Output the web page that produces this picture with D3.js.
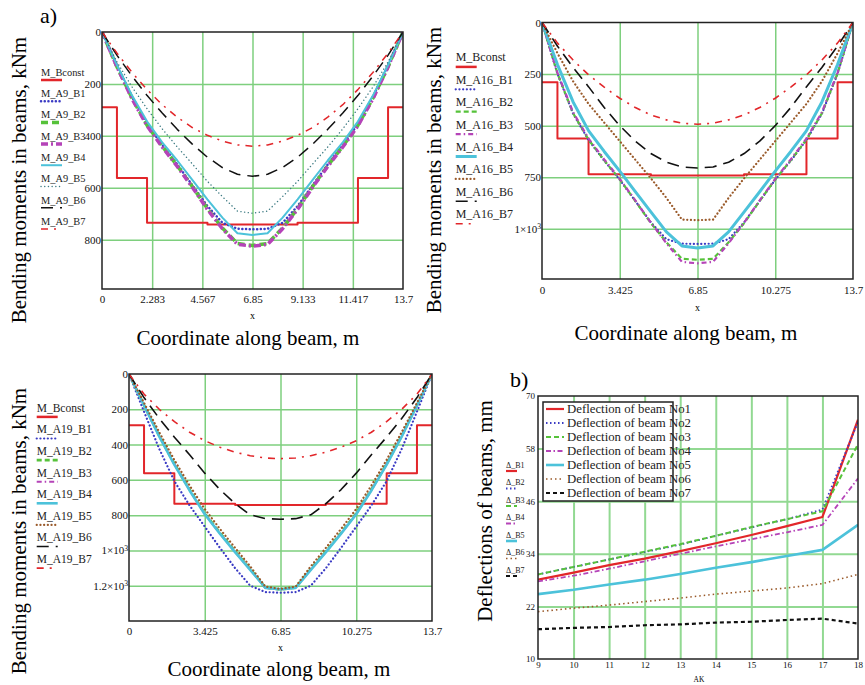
<!DOCTYPE html>
<html>
<head>
<meta charset="utf-8">
<script src="https://cdn.jsdelivr.net/npm/d3@7"></script>
<style>
  body { margin: 0; background: #fff; }
  svg { display: block; font-family: "Liberation Serif", "Times New Roman", serif; }
</style>
</head>
<body>
<svg id="fig" width="865" height="685" font-family="Liberation Serif, Times New Roman, serif"></svg>
<script>
// ---- Coordinates along the beam (m) ----
const xCoord = [0, 0.685, 1.37, 2.055, 2.74, 3.425, 4.11, 4.795, 5.48, 6.165, 6.85,
                7.535, 8.22, 8.905, 9.59, 10.275, 10.96, 11.645, 12.33, 13.015, 13.7];

// ---- Bearing capacity of the beam (stepped) ----
const bconstX = [0, 0.68, 2.05, 4.8, 8.9, 11.65, 13.02, 13.7];
const bconstM = [290, 562, 735, 742, 735, 562, 290, 290];

// ---- Bending moments, variant A9 (kNm) ----
const momA9_B1 = [0,130,250,355,435,510,590,670,735,758,760,758,735,670,590,510,435,355,250,130,0];
const momA9_B2 = [0,135,255,360,440,515,595,680,755,815,822,815,755,680,595,515,440,360,255,135,0];
const momA9_B3 = [0,135,258,362,443,518,598,683,758,818,825,818,758,683,598,518,443,362,258,135,0];
const momA9_B4 = [0,128,245,345,425,495,570,645,715,775,782,775,715,645,570,495,425,345,245,128,0];
const momA9_B5 = [0,116,212,296,373,443,508,575,634,690,698,690,634,575,508,443,373,296,212,116,0];
const momA9_B6 = [0,90,170,245,312,375,432,482,522,548,556,548,522,482,432,375,312,245,170,90,0];
const momA9_B7 = [0,82,156,222,280,328,368,398,420,435,440,435,420,398,368,328,280,222,156,82,0];

// ---- Bending moments, variant A16 (kNm) ----
const momA16_B1 = [0,250,442,570,670,762,865,968,1050,1072,1073,1072,1050,968,865,762,670,570,442,250,0];
const momA16_B2 = [0,248,440,568,668,760,865,972,1065,1145,1150,1145,1065,972,865,760,668,568,440,248,0];
const momA16_B3 = [0,245,435,563,663,758,862,970,1070,1160,1167,1160,1070,970,862,758,663,563,435,245,0];
const momA16_B4 = [0,205,385,525,625,720,820,918,1015,1083,1093,1083,1015,918,820,720,625,525,385,205,0];
const momA16_B5 = [0,150,285,395,485,575,665,755,850,955,958,955,850,755,665,575,485,395,285,150,0];
const momA16_B6 = [0,115,218,312,412,500,575,635,677,700,705,700,677,635,575,500,412,312,218,115,0];
const momA16_B7 = [0,100,182,254,313,367,412,448,472,488,493,488,472,448,412,367,313,254,182,100,0];

// ---- Bending moments, variant A19 (kNm) ----
const momA19_B1 = [0,215,425,608,745,865,985,1100,1200,1236,1240,1236,1200,1100,985,865,745,608,425,215,0];
const momA19_B2 = [0,178,350,510,655,790,900,1005,1105,1210,1222,1210,1105,1005,900,790,655,510,350,178,0];
const momA19_B3 = [0,178,352,512,658,793,903,1008,1108,1213,1222,1213,1108,1008,903,793,658,512,352,178,0];
const momA19_B4 = [0,180,355,515,660,795,905,1010,1110,1212,1220,1212,1110,1010,905,795,660,515,355,180,0];
const momA19_B5 = [0,165,330,488,632,765,878,985,1090,1205,1218,1205,1090,985,878,765,632,488,330,165,0];
const momA19_B6 = [0,135,252,358,458,562,655,735,798,820,823,820,798,735,655,562,458,358,252,135,0];
const momA19_B7 = [0,115,200,270,330,378,415,443,463,476,480,476,463,443,415,378,330,270,200,115,0];

// ---- Tick values ----
const ticksXA9 = [0, 2.283, 4.567, 6.85, 9.133, 11.417, 13.7];
const ticksXA16 = [0, 3.425, 6.85, 10.275, 13.7];
const ticksYA9 = [0, 200, 400, 600, 800];
const ticksYA16 = [0, 250, 500, 750, 1000];
const ticksYA19 = [0, 200, 400, 600, 800, 1000, 1200];

// ---- Deflections vs AK (mm) ----
const akValues = [9, 10, 11, 12, 13, 14, 15, 16, 17, 18];
const deflB1 = [28.1, 29.7, 31.4, 32.9, 34.6, 36.4, 38.3, 40.3, 42.4, 64.6];
const deflB2 = [29.3, 31.0, 32.7, 34.4, 36.1, 38.1, 40.0, 41.9, 44.1, 64.1];
const deflB3 = [29.3, 31.0, 32.7, 34.5, 36.2, 38.1, 40.1, 41.9, 43.7, 59.0];
const deflB4 = [27.7, 29.0, 30.6, 32.3, 34.0, 35.7, 37.3, 38.9, 40.6, 51.2];
const deflB5 = [24.8, 25.8, 27.0, 28.1, 29.4, 30.8, 32.1, 33.5, 34.9, 40.6];
const deflB6 = [20.8, 21.6, 22.3, 23.1, 23.9, 24.8, 25.5, 26.2, 27.2, 29.3];
const deflB7 = [16.8, 17.1, 17.3, 17.7, 17.9, 18.3, 18.5, 18.9, 19.2, 18.1];
const ticksYDefl = [10, 22, 34, 46, 58, 70];

// ---- Styles ----
const RED = "#e2262a", BLUE = "#3b3bc4", GREEN = "#56c23a", MAGENTA = "#b543b8",
      CYAN = "#4cc2da", BROWN = "#9a5a2a", TEAL = "#3f7c84", BLACK = "#111";
const GRID = "#7ecf7e";
const DOT = "0.1,3.6";

const svg = d3.select("#fig");
const defs = svg.append("defs");

function momentTick(sel) {
  sel.each(function (d) {
    const t = d3.select(this);
    if (d >= 1000) {
      t.text(null);
      t.append("tspan").text((d / 1000) + "×10");
      t.append("tspan").attr("dy", "-0.5em").attr("font-size", "0.7em").text("3");
    }
  });
}

function styleLine(path, s) {
  path.attr("fill", "none")
    .attr("stroke", s.color)
    .attr("stroke-width", s.width)
    .attr("stroke-dasharray", s.dash || null)
    .attr("stroke-linecap", s.dash === DOT ? "round" : "butt")
    .attr("stroke-linejoin", "round");
}

function momentPanel(p) {
  const x = d3.scaleLinear().domain([0, 13.7]).range([p.left, p.right]);
  const y = d3.scaleLinear().domain([0, p.yMax]).range([p.top, p.bottom]);
  const h = p.bottom - p.top, w = p.right - p.left;
  const g = svg.append("g");

  // grid
  g.append("g").attr("transform", `translate(0,${p.bottom})`)
    .call(d3.axisBottom(x).tickValues(p.xTicks.slice(1, -1)).tickSize(-h).tickFormat(""))
    .call(a => a.select(".domain").remove())
    .call(a => a.selectAll("line").attr("stroke", GRID).attr("stroke-width", 1.5));
  g.append("g").attr("transform", `translate(${p.left},0)`)
    .call(d3.axisLeft(y).tickValues(p.yTicks.slice(1)).tickSize(-w).tickFormat(""))
    .call(a => a.select(".domain").remove())
    .call(a => a.selectAll("line").attr("stroke", GRID).attr("stroke-width", 1.5));

  // curves
  defs.append("clipPath").attr("id", p.id).append("rect")
    .attr("x", p.left).attr("y", p.top).attr("width", w).attr("height", h);
  const plot = g.append("g").attr("clip-path", `url(#${p.id})`);

  const step = d3.line().x(d => x(d[0])).y(d => y(d[1])).curve(d3.curveStepAfter);
  styleLine(plot.append("path").attr("d", step(d3.zip(bconstX, bconstM))),
            { color: RED, width: 2 });

  const line = d3.line().x(d => x(d[0])).y(d => y(d[1]));
  p.series.forEach(s => {
    styleLine(plot.append("path").attr("d", line(d3.zip(xCoord, s.data))), s);
  });

  // frame
  g.append("rect").attr("x", p.left).attr("y", p.top).attr("width", w).attr("height", h)
    .attr("fill", "none").attr("stroke", "#222").attr("stroke-width", 1.5);

  // tick labels
  g.append("g").attr("transform", `translate(0,${p.bottom})`)
    .call(d3.axisBottom(x).tickValues(p.xTicks).tickSize(0).tickPadding(p.xPad).tickFormat(d => String(d)))
    .call(a => a.select(".domain").remove())
    .attr("font-family", null).attr("font-size", 11)
    .call(a => a.selectAll("text").attr("fill", "#111"));
  g.append("g").attr("transform", `translate(${p.left},0)`)
    .call(d3.axisLeft(y).tickValues(p.yTicks).tickSize(0).tickPadding(1).tickFormat(d => String(d)))
    .call(a => a.select(".domain").remove())
    .attr("font-family", null).attr("font-size", 11)
    .call(a => a.selectAll("text").attr("fill", "#111").call(momentTick));

  // axis names
  g.append("text").attr("x", (p.left + p.right) / 2).attr("y", p.xVarY)
    .attr("text-anchor", "middle").attr("font-size", 10).text("x");
  g.append("text").attr("x", p.titleX).attr("y", p.titleY)
    .attr("text-anchor", "middle").attr("font-size", 21).text("Coordinate along beam, m");
  g.append("text").attr("transform", `translate(${p.yTitleX},${p.yTitleY}) rotate(-90)`)
    .attr("text-anchor", "middle").attr("font-size", 21).text("Bending moments in beams, kNm");

  // legend
  const leg = g.append("g");
  const entries = [{ name: "M_Bconst", color: RED, width: 2.5 }].concat(p.series);
  entries.forEach((s, i) => {
    const cy = p.legY + i * p.legStep;
    leg.append("text").attr("x", p.legX).attr("y", cy + 4)
      .attr("font-size", p.legFont).attr("fill", "#222").text(s.name);
    styleLine(leg.append("line").attr("x1", p.legX).attr("x2", p.legX + 21)
      .attr("y1", cy + p.legFont * 0.8).attr("y2", cy + p.legFont * 0.8), s);
  });
}

// ---- Panel a: variant A9 ----
momentPanel({
  id: "clipA9", left: 102, right: 403, top: 32, bottom: 289, yMax: 990,
  xTicks: ticksXA9, yTicks: ticksYA9, xPad: 6, xVarY: 319, titleX: 248, titleY: 345,
  yTitleX: 26, yTitleY: 180,
  legX: 41, legY: 71.7, legStep: 21.3, legFont: 10.4,
  series: [
    { name: "M_A9_B1", data: momA9_B1, color: BLUE, width: 2.5, dash: DOT },
    { name: "M_A9_B2", data: momA9_B2, color: GREEN, width: 3.5, dash: "7,4" },
    { name: "M_A9_B3", data: momA9_B3, color: MAGENTA, width: 3.5, dash: "7,3,2,3" },
    { name: "M_A9_B4", data: momA9_B4, color: CYAN, width: 2 },
    { name: "M_A9_B5", data: momA9_B5, color: TEAL, width: 1.4, dash: DOT },
    { name: "M_A9_B6", data: momA9_B6, color: BLACK, width: 1.5, dash: "12,7" },
    { name: "M_A9_B7", data: momA9_B7, color: RED, width: 1.5, dash: "7,6,2,6" }
  ]
});

// ---- Panel: variant A16 ----
momentPanel({
  id: "clipA16", left: 542, right: 853, top: 22.5, bottom: 279, yMax: 1243,
  xTicks: ticksXA16, yTicks: ticksYA16, xPad: 7, xVarY: 311, titleX: 686, titleY: 340,
  yTitleX: 441, yTitleY: 170,
  legX: 455.7, legY: 57.3, legStep: 22.4, legFont: 12,
  series: [
    { name: "M_A16_B1", data: momA16_B1, color: BLUE, width: 2.2, dash: DOT },
    { name: "M_A16_B2", data: momA16_B2, color: GREEN, width: 2.2, dash: "5,3" },
    { name: "M_A16_B3", data: momA16_B3, color: MAGENTA, width: 2.2, dash: "5,3,1.5,3" },
    { name: "M_A16_B4", data: momA16_B4, color: CYAN, width: 3 },
    { name: "M_A16_B5", data: momA16_B5, color: BROWN, width: 2.2, dash: DOT },
    { name: "M_A16_B6", data: momA16_B6, color: BLACK, width: 1.6, dash: "12,7" },
    { name: "M_A16_B7", data: momA16_B7, color: RED, width: 1.6, dash: "7,6,2,6" }
  ]
});

// ---- Panel: variant A19 ----
momentPanel({
  id: "clipA19", left: 129, right: 432, top: 374, bottom: 621, yMax: 1400,
  xTicks: ticksXA16, yTicks: ticksYA19, xPad: 6, xVarY: 651, titleX: 279, titleY: 676,
  yTitleX: 26, yTitleY: 531,
  legX: 36.7, legY: 407.7, legStep: 21.6, legFont: 11.5,
  series: [
    { name: "M_A19_B1", data: momA19_B1, color: BLUE, width: 2.2, dash: DOT },
    { name: "M_A19_B2", data: momA19_B2, color: GREEN, width: 2.6, dash: "5,3" },
    { name: "M_A19_B3", data: momA19_B3, color: MAGENTA, width: 2, dash: "5,3,1.5,3" },
    { name: "M_A19_B4", data: momA19_B4, color: CYAN, width: 2.6 },
    { name: "M_A19_B5", data: momA19_B5, color: BROWN, width: 2.2, dash: DOT },
    { name: "M_A19_B6", data: momA19_B6, color: BLACK, width: 1.6, dash: "12,7" },
    { name: "M_A19_B7", data: momA19_B7, color: RED, width: 1.6, dash: "7,6,2,6" }
  ]
});

// ---- Panel b: deflections ----
(function () {
  const L = 538, R = 858, T = 396, B = 659;
  const x = d3.scaleLinear().domain([9, 18]).range([L, R]);
  const y = d3.scaleLinear().domain([10, 70]).range([B, T]);
  const g = svg.append("g");
  const gridC = "#92d992";

  g.append("g").attr("transform", `translate(0,${B})`)
    .call(d3.axisBottom(x).tickValues(akValues.slice(1, -1)).tickSize(-(B - T)).tickFormat(""))
    .call(a => a.select(".domain").remove())
    .call(a => a.selectAll("line").attr("stroke", gridC).attr("stroke-width", 2));
  g.append("g").attr("transform", `translate(${L},0)`)
    .call(d3.axisLeft(y).tickValues(ticksYDefl.slice(1, -1)).tickSize(-(R - L)).tickFormat(""))
    .call(a => a.select(".domain").remove())
    .call(a => a.selectAll("line").attr("stroke", gridC).attr("stroke-width", 2));

  const series = [
    { name: "Deflection of beam No1", short: "Δ_B1", data: deflB1, color: RED, width: 2.2 },
    { name: "Deflection of beam No2", short: "Δ_B2", data: deflB2, color: BLUE, width: 1.8, dash: "1.5,2.5" },
    { name: "Deflection of beam No3", short: "Δ_B3", data: deflB3, color: GREEN, width: 2, dash: "5,3" },
    { name: "Deflection of beam No4", short: "Δ_B4", data: deflB4, color: MAGENTA, width: 1.8, dash: "5,2.5,1.5,2.5" },
    { name: "Deflection of beam No5", short: "Δ_B5", data: deflB5, color: CYAN, width: 2.6 },
    { name: "Deflection of beam No6", short: "Δ_B6", data: deflB6, color: BROWN, width: 1.6, dash: "1.5,3" },
    { name: "Deflection of beam No7", short: "Δ_B7", data: deflB7, color: BLACK, width: 2.2, dash: "4,3" }
  ];

  defs.append("clipPath").attr("id", "clipDefl").append("rect")
    .attr("x", L).attr("y", T).attr("width", R - L).attr("height", B - T);
  const plot = g.append("g").attr("clip-path", "url(#clipDefl)");
  const line = d3.line().x(d => x(d[0])).y(d => y(d[1]));
  series.forEach(s => styleLine(plot.append("path").attr("d", line(d3.zip(akValues, s.data))), s));

  g.append("rect").attr("x", L).attr("y", T).attr("width", R - L).attr("height", B - T)
    .attr("fill", "none").attr("stroke", "#222").attr("stroke-width", 1.5);

  g.append("g").attr("transform", `translate(0,${B})`)
    .call(d3.axisBottom(x).tickValues(akValues).tickSize(0).tickPadding(3))
    .call(a => a.select(".domain").remove())
    .attr("font-family", null).attr("font-size", 9)
    .call(a => a.selectAll("text").attr("fill", "#111"));
  g.append("g").attr("transform", `translate(${L},0)`)
    .call(d3.axisLeft(y).tickValues(ticksYDefl).tickSize(0).tickPadding(3))
    .call(a => a.select(".domain").remove())
    .attr("font-family", null).attr("font-size", 9)
    .call(a => a.selectAll("text").attr("fill", "#111"));

  g.append("text").attr("x", 699).attr("y", 681.5).attr("text-anchor", "middle")
    .attr("font-size", 7.5).text("AK");
  g.append("text").attr("transform", "translate(492,511) rotate(-90)")
    .attr("text-anchor", "middle").attr("font-size", 21).text("Deflections of beams, mm");

  // boxed legend
  const box = g.append("g");
  box.append("rect").attr("x", 543).attr("y", 402).attr("width", 130).attr("height", 99)
    .attr("fill", "#fff").attr("stroke", "#222").attr("stroke-width", 1.5);
  series.forEach((s, i) => {
    const cy = 409 + i * 14;
    styleLine(box.append("line").attr("x1", 546).attr("x2", 564).attr("y1", cy).attr("y2", cy), s);
    box.append("text").attr("x", 567).attr("y", cy + 4.3).attr("font-size", 12.8)
      .attr("fill", "#222").text(s.name);
  });

  // side legend
  series.forEach((s, i) => {
    const cy = 465 + i * 17.5;
    g.append("text").attr("x", 506).attr("y", cy + 2.5).attr("font-size", 8)
      .attr("fill", "#222").text(s.short);
    styleLine(g.append("line").attr("x1", 506).attr("x2", 517).attr("y1", cy + 6).attr("y2", cy + 6), s);
  });
})();

// panel captions
svg.append("text").attr("x", 40).attr("y", 23).attr("font-size", 22).text("a)");
svg.append("text").attr("x", 510).attr("y", 387).attr("font-size", 22).text("b)");
</script>
</body>
</html>
